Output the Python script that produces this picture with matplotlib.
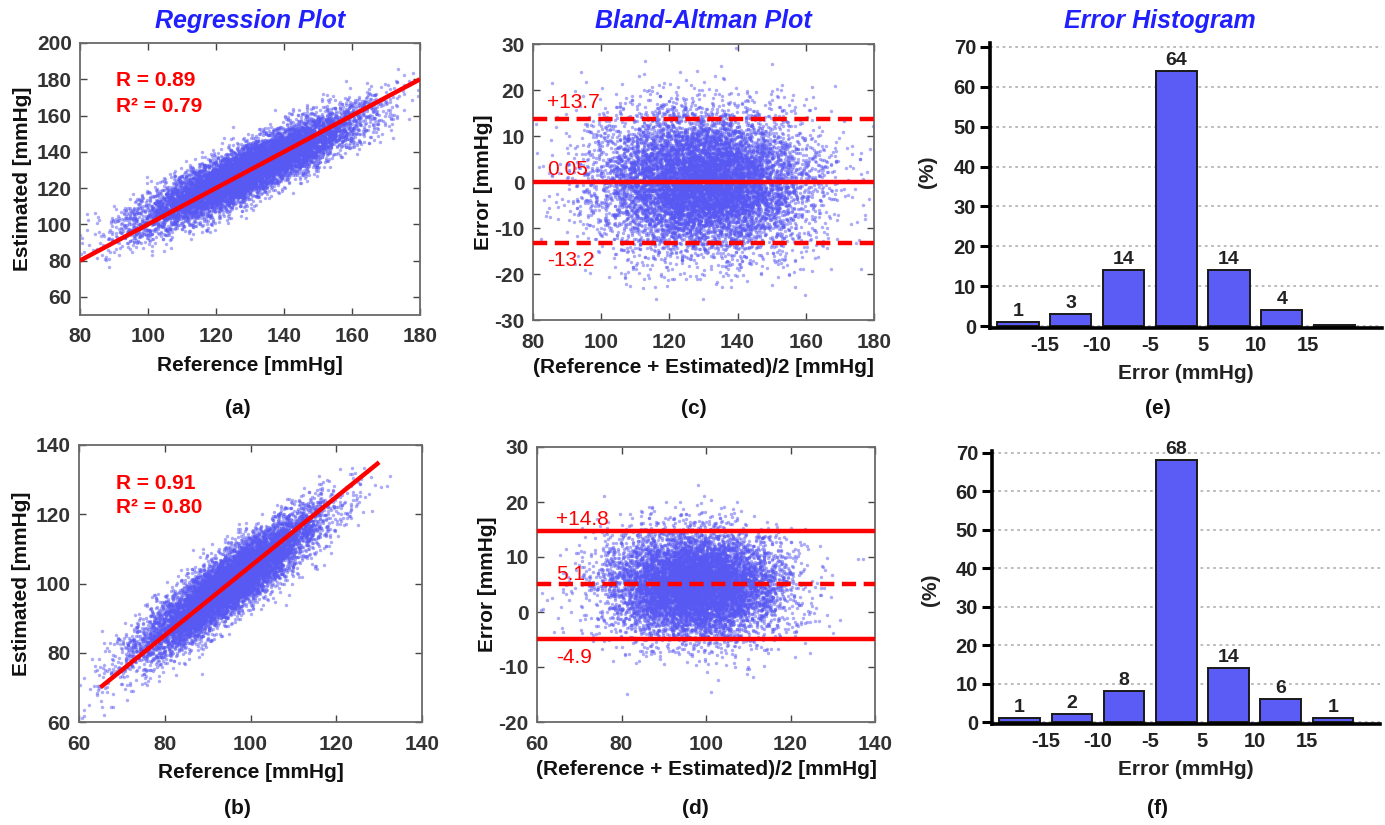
import numpy as np
import matplotlib
matplotlib.use("Agg")
import matplotlib.pyplot as plt

plt.rcParams["font.family"] = ["Liberation Sans", "DejaVu Sans"]
plt.rcParams["axes.unicode_minus"] = False

# ---- agreement statistics (systolic = top row, diastolic = bottom row) ----
titles = ["Regression Plot", "Bland-Altman Plot", "Error Histogram"]
panel_tags = [["(a)", "(c)", "(e)"], ["(b)", "(d)", "(f)"]]

r_vals = [0.89, 0.91]
r2_vals = [0.79, 0.80]
ba_mean = [0.05, 5.1]
ba_upper = [13.7, 14.8]
ba_lower = [-13.2, -4.9]

# summary of the measurement clouds: reference mean / sd, slope of estimate,
# residual sd and number of samples
ref_mean = [130.0, 95.0]
ref_sd = [16.0, 10.5]
est_slope = [0.88, 0.88]
resid_sd = [7.3, 4.6]
n_samples = [10000, 9000]

# regression line end points (reference value) and offset
fit_x = [[80, 180], [65, 130]]
fit_offset = [0.0, 5.0]

# error histogram, percentage per bin
hist_edges = ["-15", "-10", "-5", "5", "10", "15"]
hist_top = [1, 3, 14, 64, 14, 4, 0.3]
hist_top_lbl = ["1", "3", "14", "64", "14", "4", ""]
hist_bot = [1, 2, 8, 68, 14, 6, 1]
hist_bot_lbl = ["1", "2", "8", "68", "14", "6", "1"]

W, H = 1385, 825
SCAT = "#5858f2"
BAR = "#5b5bf5"
RED = "#ff0000"
TXT = "#333333"


def box(l, t, r, b):
    return [l / W, 1 - b / H, (r - l) / W, (b - t) / H]


def style_box_axes(ax):
    for s in ax.spines.values():
        s.set_color("#6a6a6a")
        s.set_linewidth(1.3)
    ax.tick_params(direction="in", top=True, right=True, length=5, width=1,
                   color="#444444", labelsize=15, labelcolor=TXT)
    ax.tick_params(axis="x", pad=9)
    ax.tick_params(axis="y", pad=6)
    for lab in ax.get_xticklabels() + ax.get_yticklabels():
        lab.set_fontweight("bold")


def style_hist_axes(ax):
    ax.spines["top"].set_visible(False)
    ax.spines["right"].set_visible(False)
    ax.spines["left"].set_linewidth(2.6)
    ax.spines["bottom"].set_linewidth(2.6)
    ax.tick_params(axis="y", direction="out", length=7, width=2.2,
                   labelsize=14.5, labelcolor="#222222", pad=3)
    ax.tick_params(axis="x", length=0, labelsize=14.5, labelcolor="#222222", pad=6)
    for lab in ax.get_xticklabels() + ax.get_yticklabels():
        lab.set_fontweight("bold")
    ax.yaxis.grid(True, linestyle=(0, (1.5, 2)), color="#b5b5b5", linewidth=1.3)
    ax.set_axisbelow(True)


fig = plt.figure(figsize=(W / 100, H / 100), dpi=100)
rng = np.random.default_rng(7)

reg_boxes = [box(80, 43, 420, 315), box(79, 445, 422, 722)]
ba_boxes = [box(533, 44, 874, 320), box(537, 447, 875, 722)]
hist_boxes = [box(990, 43, 1382, 328), box(992, 451, 1380, 724)]

reg_lims = [((80, 180), (50, 200), np.arange(80, 181, 20), np.arange(60, 201, 20)),
            ((60, 140), (60, 140), np.arange(60, 141, 20), np.arange(60, 141, 20))]
ba_lims = [((80, 180), (-30, 30), np.arange(80, 181, 20), np.arange(-30, 31, 10)),
           ((60, 140), (-20, 30), np.arange(60, 141, 20), np.arange(-20, 31, 10))]
r_text_pos = [(90.5, 179.5, 165.0), (68.6, 129.0, 122.0)]
ba_text_x = [84, 64.5]
ba_text_y = [(17.3, 2.8, -17.0), (16.9, 6.9, -8.2)]

for row in range(2):
    # measurement cloud
    ref = rng.normal(ref_mean[row], ref_sd[row], n_samples[row])
    est = (ref_mean[row] + fit_offset[row]
           + est_slope[row] * (ref - ref_mean[row])
           + rng.normal(0, resid_sd[row], n_samples[row]))

    # regression plot
    ax = fig.add_axes(reg_boxes[row])
    xl, yl, xt, yt = reg_lims[row]
    ax.scatter(ref, est, s=6, color=SCAT, alpha=0.5, linewidths=0, zorder=2)
    fx = np.array(fit_x[row])
    ax.plot(fx, fx + fit_offset[row], color=RED, lw=3.2, zorder=3,
            solid_capstyle="butt")
    ax.set_xlim(*xl)
    ax.set_ylim(*yl)
    ax.set_xticks(xt)
    ax.set_yticks(yt)
    style_box_axes(ax)
    ax.set_xlabel("Reference [mmHg]", fontsize=15, fontweight="bold", labelpad=7,
                  color="#111111")
    ax.set_ylabel("Estimated [mmHg]", fontsize=15, fontweight="bold", labelpad=3,
                  color="#111111")
    tx, ty1, ty2 = r_text_pos[row]
    ax.text(tx, ty1, f"R = {r_vals[row]:.2f}", color=RED, fontsize=15,
            fontweight="bold", va="center", ha="left")
    ax.text(tx, ty2, f"R\u00b2 = {r2_vals[row]:.2f}", color=RED, fontsize=15,
            fontweight="bold", va="center", ha="left")

    # Bland-Altman plot
    ax = fig.add_axes(ba_boxes[row])
    xl, yl, xt, yt = ba_lims[row]
    ax.scatter((ref + est) / 2, est - ref, s=6, color=SCAT, alpha=0.5,
               linewidths=0, zorder=2)
    dash = (0, (3.2, 1.7))
    lim_ls = dash if row == 0 else "-"
    mean_ls = "-" if row == 0 else dash
    ax.axhline(ba_upper[row], color=RED, lw=3.2, ls=lim_ls, zorder=3)
    ax.axhline(ba_lower[row], color=RED, lw=3.2, ls=lim_ls, zorder=3)
    ax.axhline(ba_mean[row], color=RED, lw=3.2, ls=mean_ls, zorder=3)
    ax.set_xlim(*xl)
    ax.set_ylim(*yl)
    ax.set_xticks(xt)
    ax.set_yticks(yt)
    style_box_axes(ax)
    ax.set_xlabel("(Reference + Estimated)/2 [mmHg]", fontsize=15,
                  fontweight="bold", labelpad=5, color="#111111")
    ax.set_ylabel("Error [mmHg]", fontsize=15, fontweight="bold", labelpad=1,
                  color="#111111")
    yu, ym, yd = ba_text_y[row]
    ax.text(ba_text_x[row], yu, f"+{ba_upper[row]}", color=RED, fontsize=15,
            va="center", ha="left", zorder=4)
    ax.text(ba_text_x[row], ym, f"{ba_mean[row]}", color=RED, fontsize=15,
            va="center", ha="left", zorder=4)
    ax.text(ba_text_x[row], yd, f"{ba_lower[row]}", color=RED, fontsize=15,
            va="center", ha="left", zorder=4)

    # error histogram
    ax = fig.add_axes(hist_boxes[row])
    vals = hist_top if row == 0 else hist_bot
    lbls = hist_top_lbl if row == 0 else hist_bot_lbl
    pos = np.arange(len(vals))
    ax.bar(pos, vals, width=0.78, color=BAR, edgecolor="#1a1a1a", linewidth=1.4,
           zorder=2)
    for p, v, t in zip(pos, vals, lbls):
        if t:
            ax.text(p, v + 0.6, t, ha="center", va="bottom", fontsize=14,
                    fontweight="bold", color="#222222")
    ax.set_xlim(-0.53, 6.9)
    ax.set_ylim(-0.5, 71 if row == 0 else 70.4)
    ax.set_yticks(np.arange(0, 71, 10))
    ax.set_xticks(np.arange(len(hist_edges)) + 0.5)
    ax.set_xticklabels(hist_edges)
    style_hist_axes(ax)
    ax.set_xlabel("Error (mmHg)", fontsize=15, fontweight="bold", labelpad=6,
                  color="#222222")
    ax.set_ylabel("(%)", fontsize=15, fontweight="bold", color="#222222")
    ax.yaxis.set_label_coords(-0.135, 0.55 if row == 0 else 0.49)

# column titles
title_x = [250, 703, 1160]
for x, t in zip(title_x, titles):
    fig.text(x / W, 1 - 21 / H, t, ha="center", va="center", fontsize=18,
             fontweight="bold", fontstyle="italic", color="#2020ff")

# panel tags
tag_x = [[238, 694, 1158], [237, 695, 1158]]
tag_y = [408, 808]
for row in range(2):
    for col in range(3):
        fig.text(tag_x[row][col] / W, 1 - tag_y[row] / H, panel_tags[row][col],
                 ha="center", va="center", fontsize=15, fontweight="bold",
                 color="#111111")

fig.savefig("out.png", dpi=100)
